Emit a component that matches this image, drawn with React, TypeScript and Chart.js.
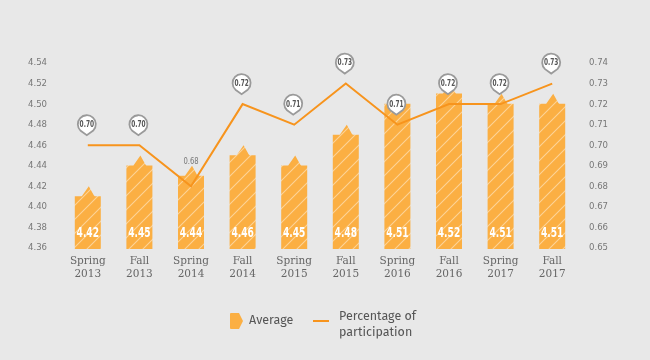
import React, { useEffect, useRef } from "react";
import { Chart, registerables } from "chart.js";

Chart.register(...registerables);

const categories: string[][] = [
  ["Spring", "2013"],
  ["Fall", "2013"],
  ["Spring", "2014"],
  ["Fall", "2014"],
  ["Spring", "2015"],
  ["Fall", "2015"],
  ["Spring", "2016"],
  ["Fall", "2016"],
  ["Spring", "2017"],
  ["Fall", "2017"],
];
const averageValues = [4.42, 4.45, 4.44, 4.46, 4.45, 4.48, 4.51, 4.52, 4.51, 4.51];
const participationValues = [0.7, 0.7, 0.68, 0.72, 0.71, 0.73, 0.71, 0.72, 0.72, 0.73];
const plainLabelIndexes = [2];
const leftAxisRange = [4.36, 4.54];
const leftAxisStep = 0.02;
const rightAxisRange = [0.65, 0.74];
const rightAxisStep = 0.01;

const BAR_COLOR = "#FBAF43";
const LINE_COLOR = "#F7941D";
const NARROW = "'Liberation Sans Narrow', 'DejaVu Sans Condensed', 'Roboto', sans-serif";

function makePattern(ctx: CanvasRenderingContext2D) {
  const c = document.createElement("canvas");
  const s = 14;
  c.width = s;
  c.height = s;
  const p = c.getContext("2d")!;
  p.fillStyle = BAR_COLOR;
  p.fillRect(0, 0, s, s);
  p.strokeStyle = "rgba(255,255,255,0.45)";
  p.lineWidth = 1.1;
  p.beginPath();
  p.moveTo(0, s);
  p.lineTo(s, 0);
  p.moveTo(-s / 2, s / 2);
  p.lineTo(s / 2, -s / 2);
  p.moveTo(s / 2, s * 1.5);
  p.lineTo(s * 1.5, s / 2);
  p.stroke();
  return ctx.createPattern(c, "repeat");
}

function narrowText(
  ctx: CanvasRenderingContext2D,
  text: string,
  x: number,
  y: number,
  sx: number
) {
  ctx.save();
  ctx.translate(x, y);
  ctx.scale(sx, 1);
  ctx.fillText(text, 0, 0);
  ctx.restore();
}

const chartPlugin = {
  id: "customBarsAndLabels",
  beforeDatasetDraw(chart: any, args: any) {
    if (args.index !== 0) return;
    const ctx: CanvasRenderingContext2D = chart.ctx;
    const pattern = makePattern(ctx);
    const bottom = chart.chartArea.bottom + 1;
    ctx.save();
    ctx.fillStyle = pattern || BAR_COLOR;
    args.meta.data.forEach((el: any) => {
      const { x, y, width } = el.getProps(["x", "y", "width"], true);
      const half = width / 2;
      const shoulder = y + 10;
      ctx.beginPath();
      ctx.moveTo(x - half, bottom);
      ctx.lineTo(x - half, shoulder);
      ctx.lineTo(x - 6, shoulder);
      ctx.lineTo(x + 1, y);
      ctx.lineTo(x + 6, shoulder - 1);
      ctx.lineTo(x + 7, shoulder);
      ctx.lineTo(x + half, shoulder);
      ctx.lineTo(x + half, bottom);
      ctx.closePath();
      ctx.fill();
    });
    ctx.restore();
    return false;
  },
  afterDatasetsDraw(chart: any) {
    const ctx: CanvasRenderingContext2D = chart.ctx;
    const barMeta = chart.getDatasetMeta(0);
    const lineMeta = chart.getDatasetMeta(1);
    const bottom = chart.chartArea.bottom + 1;
    ctx.save();
    ctx.fillStyle = "#ffffff";
    ctx.font = `bold 14px ${NARROW}`;
    ctx.textAlign = "center";
    ctx.textBaseline = "middle";
    barMeta.data.forEach((el: any, i: number) => {
      const { x } = el.getProps(["x"], true);
      narrowText(ctx, averageValues[i].toFixed(2), x, bottom - 16, 0.72);
    });
    lineMeta.data.forEach((el: any, i: number) => {
      const { x, y } = el.getProps(["x", "y"], true);
      const label = participationValues[i].toFixed(2);
      if (plainLabelIndexes.includes(i)) {
        ctx.fillStyle = "#777777";
        ctx.font = `9.5px ${NARROW}`;
        narrowText(ctx, label, x, y - 25, 0.8);
        return;
      }
      const r = 9;
      const cx = x - 1;
      const cy = y - 21;
      const tipY = y - 10;
      const a = 0.75;
      ctx.beginPath();
      ctx.arc(cx, cy, r, Math.PI / 2 + a, Math.PI / 2 - a, false);
      ctx.lineTo(cx, tipY);
      ctx.closePath();
      ctx.fillStyle = "#ffffff";
      ctx.fill();
      ctx.strokeStyle = "#9a9a9a";
      ctx.lineWidth = 1.8;
      ctx.stroke();
      ctx.fillStyle = "#555555";
      ctx.font = `bold 9px ${NARROW}`;
      narrowText(ctx, label, cx, cy + 0.5, 0.72);
    });
    ctx.restore();
  },
};

export default function App() {
  const canvasRef = useRef<HTMLCanvasElement | null>(null);

  useEffect(() => {
    document.body.style.margin = "0";
    document.body.style.background = "#E8E8E8";
    const canvas = canvasRef.current;
    if (!canvas) return;
    const chart = new Chart(canvas, {
      type: "bar",
      data: {
        labels: categories,
        datasets: [
          {
            type: "bar",
            label: "Average",
            data: averageValues,
            yAxisID: "y",
            backgroundColor: BAR_COLOR,
            barThickness: 26,
            order: 2,
          },
          {
            type: "line",
            label: "Percentage of participation",
            data: participationValues,
            yAxisID: "y1",
            borderColor: LINE_COLOR,
            borderWidth: 2,
            pointRadius: 0,
            tension: 0,
            fill: false,
            order: 1,
          },
        ] as any,
      },
      options: {
        animation: false,
        responsive: false,
        maintainAspectRatio: false,
        layout: { padding: { top: 63, bottom: 72, left: 0, right: 0 } },
        plugins: {
          legend: { display: false },
          tooltip: { enabled: false },
        },
        scales: {
          x: {
            grid: { display: false, drawTicks: false },
            border: { display: false },
            ticks: {
              color: "#666666",
              padding: 7,
              maxRotation: 0,
              autoSkip: false,
              font: { family: "'DejaVu Serif', serif", size: 10.5, lineHeight: 1.2 },
            },
            afterFit: (scale: any) => {
              scale.height = 40;
            },
          },
          y: {
            position: "left",
            min: leftAxisRange[0],
            max: leftAxisRange[1],
            beginAtZero: false,
            grid: { display: false, drawTicks: false },
            border: { display: false },
            ticks: {
              stepSize: leftAxisStep,
              padding: 15,
              color: "#777777",
              font: { family: NARROW, size: 9.5 },
              callback: (v: any) => Number(v).toFixed(2),
            },
            afterFit: (scale: any) => {
              scale.width = 62;
            },
          },
          y1: {
            position: "right",
            min: rightAxisRange[0],
            max: rightAxisRange[1],
            grid: { display: false, drawTicks: false },
            border: { display: false },
            ticks: {
              stepSize: rightAxisStep,
              padding: 11,
              color: "#777777",
              font: { family: NARROW, size: 9.5 },
              callback: (v: any) => Number(v).toFixed(2),
            },
            afterFit: (scale: any) => {
              scale.width = 72;
            },
          },
        },
      } as any,
      plugins: [chartPlugin],
    });
    return () => chart.destroy();
  }, []);

  const legendText: React.CSSProperties = {
    position: "absolute",
    fontFamily: "'Fira Sans', 'Open Sans', 'Noto Sans', sans-serif",
    fontSize: 12.5,
    color: "#555555",
    lineHeight: "16px",
  };

  return (
    <div style={{ position: "relative", width: 650, height: 360, background: "#E8E8E8" }}>
      <canvas ref={canvasRef} width={650} height={360} style={{ display: "block" }} />
      <svg
        style={{ position: "absolute", left: 230, top: 313 }}
        width={14}
        height={16}
        viewBox="0 0 14 16"
      >
        <path d="M0 1 Q0 0 1 0 L9 0 L13 8 L9 16 L1 16 Q0 16 0 15 Z" fill={BAR_COLOR} />
      </svg>
      <div style={{ ...legendText, left: 249, top: 312 }}>Average</div>
      <div
        style={{
          position: "absolute",
          left: 313,
          top: 320,
          width: 16,
          height: 2,
          background: LINE_COLOR,
        }}
      />
      <div style={{ ...legendText, left: 339, top: 308 }}>
        Percentage of
        <br />
        participation
      </div>
    </div>
  );
}
